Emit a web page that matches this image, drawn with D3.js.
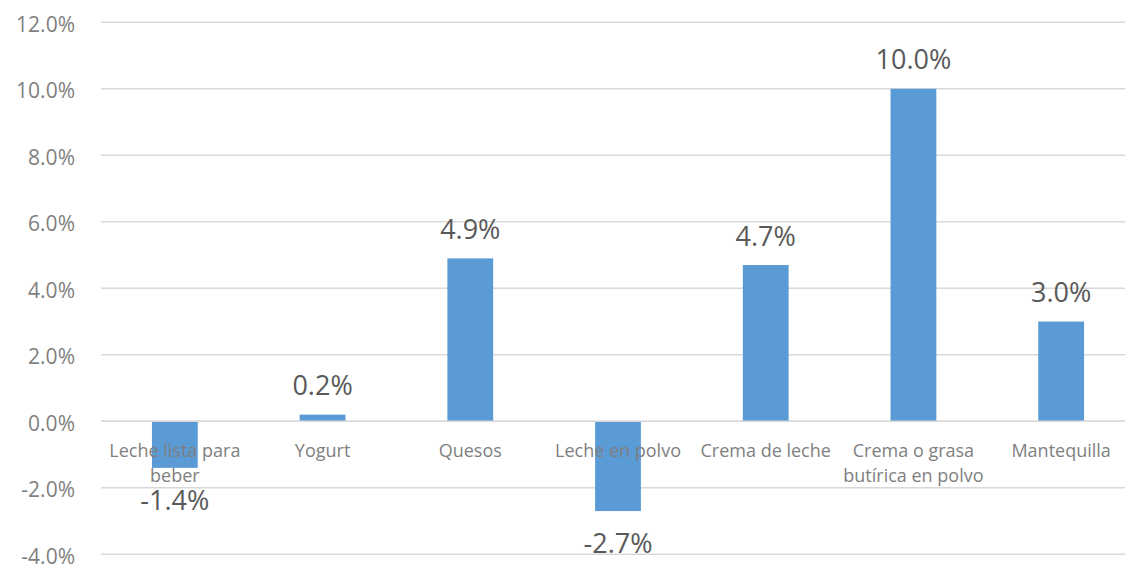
<!DOCTYPE html>
<html>
<head>
<meta charset="utf-8">
<script src="https://cdn.jsdelivr.net/npm/d3@7"></script>
<style>
  body { margin: 0; background: #fff; }
  svg { display: block; font-family: "Open Sans", sans-serif; }
</style>
</head>
<body>
<div id="chart"></div>
<script>
// chart data
const categories = [
    "Leche lista para\nbeber",
    "Yogurt",
    "Quesos",
    "Leche en polvo",
    "Crema de leche",
    "Crema o grasa\nbutírica en polvo",
    "Mantequilla"
];
const values = [-1.4, 0.2, 4.9, -2.7, 4.7, 10.0, 3.0];
const yTicks = [-4, -2, 0, 2, 4, 6, 8, 10, 12];

const width = 1125, height = 566;
const plot = { left: 101, right: 1135, top: 22.3, bottom: 554.3 };

const svg = d3.select("#chart").append("svg")
    .attr("width", width)
    .attr("height", height);

const x = d3.scaleBand()
    .domain(categories)
    .range([plot.left, plot.right]);

const y = d3.scaleLinear()
    .domain([-4, 12])
    .range([plot.bottom, plot.top]);

const barW = x.step() * 0.31;

// gridlines
svg.append("g")
    .selectAll("line")
    .data(yTicks)
    .enter()
    .append("line")
    .attr("x1", plot.left)
    .attr("x2", width)
    .attr("y1", d => y(d))
    .attr("y2", d => y(d))
    .attr("stroke", "#d9d9d9")
    .attr("stroke-width", 1.5);

// y axis labels
const yAxis = d3.axisLeft(y)
    .tickValues(yTicks)
    .tickFormat(d => d.toFixed(1) + "%")
    .tickSize(0)
    .tickPadding(26);

const yg = svg.append("g")
    .attr("transform", "translate(" + plot.left + ",2)")
    .call(yAxis);
yg.select(".domain").remove();
yg.selectAll("text")
    .attr("fill", "#7f7f7f")
    .style("font-family", "'Open Sans', sans-serif")
    .style("font-size", "21px");

// bars
svg.append("g")
    .selectAll("rect")
    .data(values)
    .enter()
    .append("rect")
    .attr("x", (d, i) => x(categories[i]) + x.bandwidth() / 2 - barW / 2)
    .attr("width", barW)
    .attr("y", d => y(Math.max(0, d)))
    .attr("height", d => Math.abs(y(d) - y(0)))
    .attr("fill", "#5b9bd5");

// zero line over the bars
svg.append("line")
    .attr("x1", plot.left)
    .attr("x2", width)
    .attr("y1", y(0))
    .attr("y2", y(0))
    .attr("stroke", "#d9d9d9")
    .attr("stroke-width", 1.5);

// category labels
const cat = svg.append("g")
    .selectAll("text")
    .data(categories)
    .enter()
    .append("text")
    .attr("text-anchor", "middle")
    .attr("fill", "#7f7f7f")
    .style("font-size", "18px");

cat.each(function (d) {
    const t = d3.select(this);
    d.split("\n").forEach((line, k) => {
        t.append("tspan")
            .attr("x", x(d) + x.bandwidth() / 2)
            .attr("y", 457 + k * 25)
            .text(line);
    });
});

// data labels
svg.append("g")
    .selectAll("text")
    .data(values)
    .enter()
    .append("text")
    .attr("text-anchor", "middle")
    .attr("fill", "#595959")
    .style("font-size", "27px")
    .attr("x", (d, i) => x(categories[i]) + x.bandwidth() / 2)
    .attr("y", d => d >= 0 ? y(d) - 19.5 : y(d) + 42)
    .text(d => d.toFixed(1) + "%");
</script>
</body>
</html>
